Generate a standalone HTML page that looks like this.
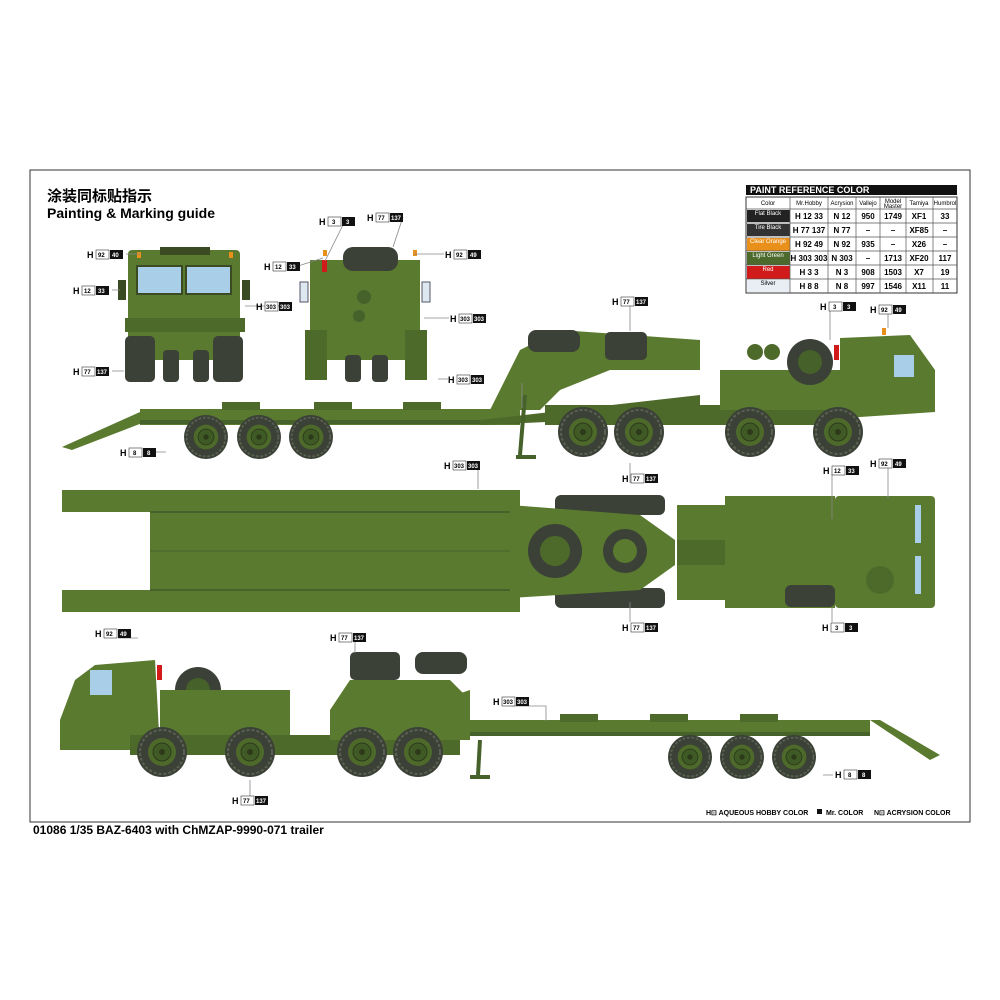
<!DOCTYPE html>
<html><head><meta charset="utf-8"><style>
html,body{margin:0;padding:0;background:#fff;width:1000px;height:1000px;overflow:hidden}
svg{display:block}
text{font-family:"Liberation Sans","Noto Sans CJK SC",sans-serif}
</style></head><body>
<svg width="1000" height="1000" viewBox="0 0 1000 1000" xmlns="http://www.w3.org/2000/svg">
<defs>
<g id="wh"><circle r="25" fill="#3b4136"/><circle r="22" fill="none" stroke="#5a6152" stroke-width="2" stroke-dasharray="3 2"/><circle r="14" fill="#4e6a2b"/><circle r="9" fill="#3f5a24" stroke="#2c3a1a"/><circle r="3" fill="#2c3a1a"/></g>
<g id="tw"><rect x="-18" y="-10" width="36" height="20" rx="6" fill="#3b4136"/><path d="M-14-6h28M-14 0h28M-14 6h28" stroke="#5a6152" stroke-width="1.5"/></g>
</defs>
<rect x="30" y="170" width="940" height="652" fill="none" stroke="#333" stroke-width="1"/>
<text x="47" y="201" font-size="15" font-weight="bold">涂装同标贴指示</text>
<text x="47" y="218" font-size="14" font-weight="bold">Painting &amp; Marking guide</text>

<!-- paint table -->
<g font-size="8" text-anchor="middle">
<rect x="746" y="185" width="211" height="10" fill="#111"/>
<text x="750" y="193" fill="#fff" font-weight="bold" text-anchor="start" font-size="9">PAINT  REFERENCE COLOR</text>
<rect x="746" y="197" width="211" height="96" fill="#fff" stroke="#333"/>
<rect x="747" y="210" width="43" height="12" fill="#222"/><rect x="747" y="224" width="43" height="12" fill="#333"/>
<rect x="747" y="238" width="43" height="13" fill="#e8901a"/><rect x="747" y="252" width="43" height="13" fill="#4c6a2c"/>
<rect x="747" y="266" width="43" height="13" fill="#d11a1a"/><rect x="747" y="280" width="43" height="12" fill="#e8eef4"/>
<path d="M746 209h211M746 223h211M746 237h211M746 251h211M746 265h211M746 279h211M790 197v96M828 197v96M856 197v96M880 197v96M906 197v96M933 197v96" stroke="#555" stroke-width="0.7"/>
<g font-size="6"><text x="768" y="205">Color</text><text x="809" y="205">Mr.Hobby</text><text x="842" y="205">Acrysion</text><text x="868" y="205">Vallejo</text><text x="893" y="203">Model</text><text x="893" y="208">Master</text><text x="919" y="205">Tamiya</text><text x="945" y="205">Humbrol</text>
<g fill="#fff"><text x="768" y="215">Flat Black</text><text x="768" y="229">Tire Black</text><text x="768" y="243">Clear Orange</text><text x="768" y="257">Light Green</text><text x="768" y="271">Red</text></g><text x="768" y="285">Silver</text></g>
<g font-weight="bold" font-size="8">
<text x="809" y="219">H 12 33</text><text x="842" y="219">N 12</text><text x="868" y="219">950</text><text x="893" y="219">1749</text><text x="919" y="219">XF1</text><text x="945" y="219">33</text>
<text x="809" y="233">H 77 137</text><text x="842" y="233">N 77</text><text x="868" y="233">–</text><text x="893" y="233">–</text><text x="919" y="233">XF85</text><text x="945" y="233">–</text>
<text x="809" y="247">H 92 49</text><text x="842" y="247">N 92</text><text x="868" y="247">935</text><text x="893" y="247">–</text><text x="919" y="247">X26</text><text x="945" y="247">–</text>
<text x="809" y="261">H 303 303</text><text x="842" y="261">N 303</text><text x="868" y="261">–</text><text x="893" y="261">1713</text><text x="919" y="261">XF20</text><text x="945" y="261">117</text>
<text x="809" y="275">H 3 3</text><text x="842" y="275">N 3</text><text x="868" y="275">908</text><text x="893" y="275">1503</text><text x="919" y="275">X7</text><text x="945" y="275">19</text>
<text x="809" y="289">H 8 8</text><text x="842" y="289">N 8</text><text x="868" y="289">997</text><text x="893" y="289">1546</text><text x="919" y="289">X11</text><text x="945" y="289">11</text></g>
</g>

<!-- FRONT VIEW -->
<g>
<rect x="128" y="250" width="112" height="110" rx="4" fill="#5a7a30"/>
<rect x="137" y="266" width="45" height="28" fill="#a9cfe8" stroke="#3a4a22" stroke-width="2"/><rect x="186" y="266" width="45" height="28" fill="#a9cfe8" stroke="#3a4a22" stroke-width="2"/>
<rect x="160" y="247" width="50" height="8" fill="#3a4a22"/>
<rect x="118" y="280" width="8" height="20" fill="#3a4a22"/><rect x="242" y="280" width="8" height="20" fill="#3a4a22"/>
<rect x="125" y="318" width="120" height="14" fill="#4e6a2a"/>
<rect x="125" y="336" width="30" height="46" rx="5" fill="#3b4136"/><rect x="213" y="336" width="30" height="46" rx="5" fill="#3b4136"/>
<rect x="163" y="350" width="16" height="32" rx="4" fill="#3b4136"/><rect x="193" y="350" width="16" height="32" rx="4" fill="#3b4136"/>
<rect x="137" y="252" width="4" height="6" fill="#e8901a"/><rect x="229" y="252" width="4" height="6" fill="#e8901a"/>
</g>
<!-- REAR VIEW -->
<g>
<rect x="310" y="260" width="110" height="100" fill="#5a7a30"/>
<rect x="343" y="247" width="55" height="24" rx="10" fill="#3b4136"/>
<rect x="300" y="282" width="8" height="20" fill="#dde8f0" stroke="#556"/><rect x="422" y="282" width="8" height="20" fill="#dde8f0" stroke="#556"/>
<rect x="322" y="260" width="5" height="12" fill="#d11a1a"/>
<circle cx="364" cy="297" r="7" fill="#46612a"/><circle cx="359" cy="316" r="6" fill="#46612a"/>
<rect x="305" y="330" width="22" height="50" fill="#4e6a2a"/><rect x="405" y="330" width="22" height="50" fill="#4e6a2a"/>
<rect x="345" y="355" width="16" height="27" rx="4" fill="#3b4136"/><rect x="372" y="355" width="16" height="27" rx="4" fill="#3b4136"/>
<rect x="323" y="250" width="4" height="6" fill="#e8901a"/><rect x="413" y="250" width="4" height="6" fill="#e8901a"/>
</g>

<!-- TOP SIDE VIEW -->
<g>
<path d="M62 447 L140 412 L150 412 L150 420 L72 450Z" fill="#5a7a30"/>
<rect x="140" y="409" width="380" height="16" fill="#5a7a30"/>
<rect x="140" y="420" width="380" height="4" fill="#46612a"/>
<rect x="222" y="402" width="38" height="8" fill="#4e6a2a"/><rect x="314" y="402" width="38" height="8" fill="#4e6a2a"/><rect x="403" y="402" width="38" height="8" fill="#4e6a2a"/>
<path d="M490 410 L520 350 L560 330 L700 340 L700 370 L610 370 L560 390 L540 410Z" fill="#5a7a30"/>
<path d="M480 420 L700 395 L700 415 L480 425Z" fill="#4e6a2a"/>
<rect x="528" y="330" width="52" height="22" rx="8" fill="#3b4136"/>
<rect x="605" y="332" width="42" height="28" rx="5" fill="#3b4136"/>
<rect x="545" y="405" width="300" height="20" fill="#4e6a2a"/>
<rect x="720" y="370" width="120" height="40" fill="#5a7a30"/>
<circle cx="810" cy="362" r="23" fill="#3b4136"/><circle cx="810" cy="362" r="12" fill="#46612a"/>
<circle cx="755" cy="352" r="8" fill="#4e6a2a"/><circle cx="772" cy="352" r="8" fill="#4e6a2a"/>
<path d="M840 338 L910 335 L935 370 L935 412 L845 418 L840 418Z" fill="#5a7a30"/>
<rect x="894" y="355" width="20" height="22" fill="#a9cfe8"/>
<rect x="834" y="345" width="5" height="15" fill="#d11a1a"/><rect x="882" y="328" width="4" height="7" fill="#e8901a"/>
<path d="M525 395 L520 455 M516 457h20" stroke="#46612a" stroke-width="4"/>
<use href="#wh" x="206" y="437" transform="translate(206 437) scale(.88) translate(-206 -437)"/>
<use href="#wh" x="259" y="437" transform="translate(259 437) scale(.88) translate(-259 -437)"/>
<use href="#wh" x="311" y="437" transform="translate(311 437) scale(.88) translate(-311 -437)"/>
<use href="#wh" x="583" y="432"/><use href="#wh" x="639" y="432"/><use href="#wh" x="750" y="432"/><use href="#wh" x="838" y="432"/>
</g>

<!-- TOP VIEW (middle) -->
<g>
<rect x="62" y="490" width="110" height="22" fill="#5a7a30"/><rect x="62" y="590" width="110" height="22" fill="#5a7a30"/>
<rect x="150" y="490" width="370" height="122" fill="#5a7a30"/>
<path d="M150 551h370" stroke="#46612a"/>
<path d="M150 512h370M150 590h370" stroke="#46612a" stroke-width="2"/>
<rect x="555" y="495" width="110" height="20" rx="6" fill="#3b4136"/><rect x="555" y="588" width="110" height="20" rx="6" fill="#3b4136"/>
<path d="M510 505 L640 515 L675 540 L675 565 L640 590 L510 598Z" fill="#5a7a30"/>
<circle cx="555" cy="551" r="27" fill="#3b4136"/><circle cx="555" cy="551" r="15" fill="#4e6a2a"/>
<circle cx="625" cy="551" r="22" fill="#3b4136"/><circle cx="625" cy="551" r="12" fill="#5a7a30"/>
<rect x="677" y="505" width="50" height="35" fill="#5a7a30"/><rect x="677" y="565" width="50" height="35" fill="#5a7a30"/>
<rect x="677" y="540" width="70" height="25" fill="#4e6a2a"/>
<rect x="725" y="496" width="110" height="112" fill="#5a7a30"/>
<rect x="835" y="496" width="100" height="112" rx="4" fill="#5a7a30"/>
<rect x="915" y="505" width="6" height="38" fill="#a9cfe8"/><rect x="915" y="556" width="6" height="38" fill="#a9cfe8"/>
<circle cx="880" cy="580" r="14" fill="#4e6a2a"/>
<rect x="785" y="585" width="50" height="22" rx="6" fill="#3b4136"/>
</g>

<!-- BOTTOM SIDE VIEW -->
<g>
<path d="M60 720 L75 680 L95 665 L155 660 L160 750 L60 750Z" fill="#5a7a30"/>
<rect x="90" y="670" width="22" height="25" fill="#a9cfe8"/>
<rect x="157" y="665" width="5" height="15" fill="#d11a1a"/>
<circle cx="198" cy="690" r="23" fill="#3b4136"/><circle cx="198" cy="690" r="12" fill="#46612a"/>
<rect x="160" y="690" width="130" height="50" fill="#5a7a30"/>
<rect x="130" y="735" width="330" height="20" fill="#4e6a2a"/>
<path d="M330 710 L350 680 L450 680 L470 700 L470 740 L330 740Z" fill="#5a7a30"/>
<rect x="350" y="652" width="50" height="28" rx="5" fill="#3b4136"/>
<rect x="415" y="652" width="52" height="22" rx="8" fill="#3b4136"/>
<path d="M470 740 L470 690 L440 700 L445 720 Z" fill="#5a7a30"/>
<rect x="470" y="720" width="400" height="16" fill="#5a7a30"/>
<rect x="470" y="732" width="400" height="4" fill="#46612a"/>
<rect x="560" y="714" width="38" height="8" fill="#4e6a2a"/><rect x="650" y="714" width="38" height="8" fill="#4e6a2a"/><rect x="740" y="714" width="38" height="8" fill="#4e6a2a"/>
<path d="M870 720 L880 720 L940 755 L930 760Z" fill="#5a7a30"/>
<path d="M480 740 L478 775 M470 777h20" stroke="#46612a" stroke-width="4"/>
<use href="#wh" x="162" y="752"/><use href="#wh" x="250" y="752"/><use href="#wh" x="362" y="752"/><use href="#wh" x="418" y="752"/>
<use href="#wh" x="690" y="757" transform="translate(690 757) scale(.88) translate(-690 -757)"/>
<use href="#wh" x="742" y="757" transform="translate(742 757) scale(.88) translate(-742 -757)"/>
<use href="#wh" x="794" y="757" transform="translate(794 757) scale(.88) translate(-794 -757)"/>
</g>

<!-- leader lines -->
<g stroke="#888" stroke-width="0.8" fill="none">
<path d="M126 254h14M112 290h8M112 371h12M290 306h-45M345 221l-20 40M403 217l-10 30M298 266l25-8M444 254h-30M449 318h-25M448 379h-10M522 383v25M154 452h12M630 306v25M830 310v30M888 310v18M478 469v20M630 483v-20M832 474v45M888 468v30M630 622v-20M832 622v-15M118 638h20M355 641v12M511 706h35v15M250 805v-25M833 775h-10"/>
</g>

<!-- labels -->
<g font-size="9" font-weight="bold">
<g id="lab">
</g>
<text x="87" y="258">H</text><rect x="96" y="250" width="13" height="9" fill="#fff" stroke="#333" stroke-width=".6"/><rect x="110" y="250" width="13" height="9" fill="#111"/><text x="98" y="257" font-size="6">92</text><text x="112" y="257" font-size="6" fill="#fff">40</text>
<text x="73" y="294">H</text><rect x="82" y="286" width="13" height="9" fill="#fff" stroke="#333" stroke-width=".6"/><rect x="96" y="286" width="13" height="9" fill="#111"/><text x="84" y="293" font-size="6">12</text><text x="98" y="293" font-size="6" fill="#fff">33</text>
<text x="73" y="375">H</text><rect x="82" y="367" width="13" height="9" fill="#fff" stroke="#333" stroke-width=".6"/><rect x="96" y="367" width="13" height="9" fill="#111"/><text x="84" y="374" font-size="6">77</text><text x="97" y="374" font-size="6" fill="#fff">137</text>
<text x="256" y="310">H</text><rect x="265" y="302" width="13" height="9" fill="#fff" stroke="#333" stroke-width=".6"/><rect x="279" y="302" width="13" height="9" fill="#111"/><text x="266" y="309" font-size="6">303</text><text x="280" y="309" font-size="6" fill="#fff">303</text>
<text x="319" y="225">H</text><rect x="328" y="217" width="13" height="9" fill="#fff" stroke="#333" stroke-width=".6"/><rect x="342" y="217" width="13" height="9" fill="#111"/><text x="332" y="224" font-size="6">3</text><text x="346" y="224" font-size="6" fill="#fff">3</text>
<text x="367" y="221">H</text><rect x="376" y="213" width="13" height="9" fill="#fff" stroke="#333" stroke-width=".6"/><rect x="390" y="213" width="13" height="9" fill="#111"/><text x="378" y="220" font-size="6">77</text><text x="391" y="220" font-size="6" fill="#fff">137</text>
<text x="264" y="270">H</text><rect x="273" y="262" width="13" height="9" fill="#fff" stroke="#333" stroke-width=".6"/><rect x="287" y="262" width="13" height="9" fill="#111"/><text x="275" y="269" font-size="6">12</text><text x="289" y="269" font-size="6" fill="#fff">33</text>
<text x="445" y="258">H</text><rect x="454" y="250" width="13" height="9" fill="#fff" stroke="#333" stroke-width=".6"/><rect x="468" y="250" width="13" height="9" fill="#111"/><text x="456" y="257" font-size="6">92</text><text x="470" y="257" font-size="6" fill="#fff">49</text>
<text x="450" y="322">H</text><rect x="459" y="314" width="13" height="9" fill="#fff" stroke="#333" stroke-width=".6"/><rect x="473" y="314" width="13" height="9" fill="#111"/><text x="460" y="321" font-size="6">303</text><text x="474" y="321" font-size="6" fill="#fff">303</text>
<text x="448" y="383">H</text><rect x="457" y="375" width="13" height="9" fill="#fff" stroke="#333" stroke-width=".6"/><rect x="471" y="375" width="13" height="9" fill="#111"/><text x="458" y="382" font-size="6">303</text><text x="472" y="382" font-size="6" fill="#fff">303</text>
<text x="120" y="456">H</text><rect x="129" y="448" width="13" height="9" fill="#fff" stroke="#333" stroke-width=".6"/><rect x="143" y="448" width="13" height="9" fill="#111"/><text x="133" y="455" font-size="6">8</text><text x="147" y="455" font-size="6" fill="#fff">8</text>
<text x="612" y="305">H</text><rect x="621" y="297" width="13" height="9" fill="#fff" stroke="#333" stroke-width=".6"/><rect x="635" y="297" width="13" height="9" fill="#111"/><text x="623" y="304" font-size="6">77</text><text x="636" y="304" font-size="6" fill="#fff">137</text>
<text x="820" y="310">H</text><rect x="829" y="302" width="13" height="9" fill="#fff" stroke="#333" stroke-width=".6"/><rect x="843" y="302" width="13" height="9" fill="#111"/><text x="833" y="309" font-size="6">3</text><text x="847" y="309" font-size="6" fill="#fff">3</text>
<text x="870" y="313">H</text><rect x="879" y="305" width="13" height="9" fill="#fff" stroke="#333" stroke-width=".6"/><rect x="893" y="305" width="13" height="9" fill="#111"/><text x="881" y="312" font-size="6">92</text><text x="895" y="312" font-size="6" fill="#fff">49</text>
<text x="444" y="469">H</text><rect x="453" y="461" width="13" height="9" fill="#fff" stroke="#333" stroke-width=".6"/><rect x="467" y="461" width="13" height="9" fill="#111"/><text x="454" y="468" font-size="6">303</text><text x="468" y="468" font-size="6" fill="#fff">303</text>
<text x="622" y="482">H</text><rect x="631" y="474" width="13" height="9" fill="#fff" stroke="#333" stroke-width=".6"/><rect x="645" y="474" width="13" height="9" fill="#111"/><text x="633" y="481" font-size="6">77</text><text x="646" y="481" font-size="6" fill="#fff">137</text>
<text x="823" y="474">H</text><rect x="832" y="466" width="13" height="9" fill="#fff" stroke="#333" stroke-width=".6"/><rect x="846" y="466" width="13" height="9" fill="#111"/><text x="834" y="473" font-size="6">12</text><text x="848" y="473" font-size="6" fill="#fff">33</text>
<text x="870" y="467">H</text><rect x="879" y="459" width="13" height="9" fill="#fff" stroke="#333" stroke-width=".6"/><rect x="893" y="459" width="13" height="9" fill="#111"/><text x="881" y="466" font-size="6">92</text><text x="895" y="466" font-size="6" fill="#fff">49</text>
<text x="622" y="631">H</text><rect x="631" y="623" width="13" height="9" fill="#fff" stroke="#333" stroke-width=".6"/><rect x="645" y="623" width="13" height="9" fill="#111"/><text x="633" y="630" font-size="6">77</text><text x="646" y="630" font-size="6" fill="#fff">137</text>
<text x="822" y="631">H</text><rect x="831" y="623" width="13" height="9" fill="#fff" stroke="#333" stroke-width=".6"/><rect x="845" y="623" width="13" height="9" fill="#111"/><text x="835" y="630" font-size="6">3</text><text x="849" y="630" font-size="6" fill="#fff">3</text>
<text x="95" y="637">H</text><rect x="104" y="629" width="13" height="9" fill="#fff" stroke="#333" stroke-width=".6"/><rect x="118" y="629" width="13" height="9" fill="#111"/><text x="106" y="636" font-size="6">92</text><text x="120" y="636" font-size="6" fill="#fff">49</text>
<text x="330" y="641">H</text><rect x="339" y="633" width="13" height="9" fill="#fff" stroke="#333" stroke-width=".6"/><rect x="353" y="633" width="13" height="9" fill="#111"/><text x="341" y="640" font-size="6">77</text><text x="354" y="640" font-size="6" fill="#fff">137</text>
<text x="493" y="705">H</text><rect x="502" y="697" width="13" height="9" fill="#fff" stroke="#333" stroke-width=".6"/><rect x="516" y="697" width="13" height="9" fill="#111"/><text x="503" y="704" font-size="6">303</text><text x="517" y="704" font-size="6" fill="#fff">303</text>
<text x="232" y="804">H</text><rect x="241" y="796" width="13" height="9" fill="#fff" stroke="#333" stroke-width=".6"/><rect x="255" y="796" width="13" height="9" fill="#111"/><text x="243" y="803" font-size="6">77</text><text x="256" y="803" font-size="6" fill="#fff">137</text>
<text x="835" y="778">H</text><rect x="844" y="770" width="13" height="9" fill="#fff" stroke="#333" stroke-width=".6"/><rect x="858" y="770" width="13" height="9" fill="#111"/><text x="848" y="777" font-size="6">8</text><text x="862" y="777" font-size="6" fill="#fff">8</text>
</g>

<g font-size="7" font-weight="bold">
<text x="706" y="815">H⊡ AQUEOUS HOBBY COLOR</text>
<rect x="817" y="809" width="5" height="5" fill="#111"/><text x="826" y="815">Mr. COLOR</text>
<text x="874" y="815">N⊡ ACRYSION COLOR</text>
</g>
<text x="33" y="834" font-size="12" font-weight="bold">01086 1/35 BAZ-6403 with ChMZAP-9990-071 trailer</text>
</svg>
</body></html>
